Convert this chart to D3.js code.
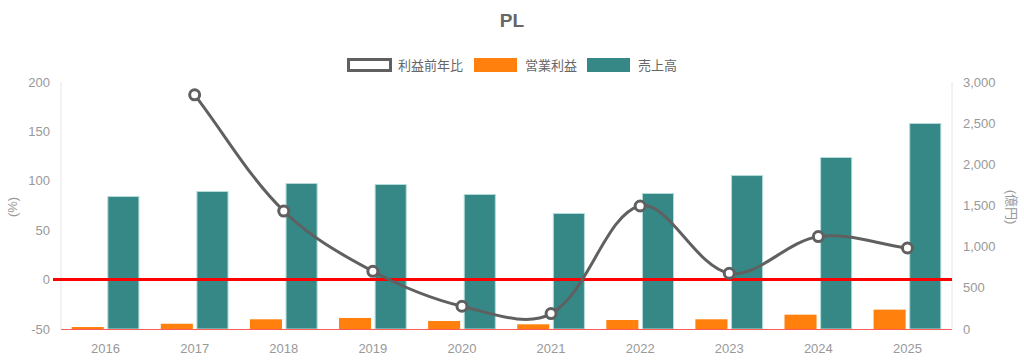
<!DOCTYPE html>
<html>
<head>
<meta charset="utf-8">
<script src="https://cdn.jsdelivr.net/npm/d3@7"></script>
<style>
  body { margin: 0; background: #fff; }
  text { font-family: "Liberation Sans", Arial, "Noto Sans CJK JP", sans-serif; }
</style>
</head>
<body>
<div id="chart"></div>
<script>
// data
const years = ["2016", "2017", "2018", "2019", "2020", "2021", "2022", "2023", "2024", "2025"];
const sales = [1615, 1676, 1773, 1761, 1640, 1409, 1652, 1870, 2089, 2502];   // 売上高 (億円)
const opProfit = [24, 64, 118, 134, 97, 57, 109, 118, 174, 235];            // 営業利益 (億円)
const profitYoY = [null, 187, 69.4, 8.4, -27, -34.4, 74.5, 6.4, 43.5, 32];   // 利益前年比 (%)
const leftTicks = [-50, 0, 50, 100, 150, 200];
const rightTicks = [0, 500, 1000, 1500, 2000, 2500, 3000];

const width = 1024, height = 361;
const margin = { top: 82, right: 72, bottom: 32, left: 61 };
const textGray = "#999";
const lineGray = "#606060";
const teal = "#358886";
const orange = "#ff800d";

const svg = d3.select("#chart").append("svg")
  .attr("width", width)
  .attr("height", height);

const x = d3.scaleBand()
  .domain(years)
  .range([margin.left, width - margin.right]);

const yPct = d3.scaleLinear().domain([-50, 200]).range([height - margin.bottom, margin.top]);
const yYen = d3.scaleLinear().domain([0, 3000]).range([height - margin.bottom, margin.top]);

// bars: category 80%, bar 90% (two datasets side by side)
const slot = x.bandwidth() * 0.8 / 2;
const barW = slot * 0.9;
const barX = (d, i) => x(d) + x.bandwidth() / 2 + (i - 1) * slot + (slot - barW) / 2;

// axis borders
const x0 = margin.left, x1 = width - margin.right;
svg.append("line")
  .attr("x1", x0).attr("x2", x0)
  .attr("y1", margin.top).attr("y2", height - margin.bottom)
  .attr("stroke", "#e6e6e6");
svg.append("line")
  .attr("x1", x1).attr("x2", x1)
  .attr("y1", margin.top).attr("y2", height - margin.bottom)
  .attr("stroke", "#e6e6e6");

// bars
svg.append("g").selectAll("rect")
  .data(years)
  .join("rect")
  .attr("x", d => barX(d, 0))
  .attr("width", barW)
  .attr("y", (d, i) => yYen(opProfit[i]))
  .attr("height", (d, i) => yYen(0) - yYen(opProfit[i]))
  .attr("fill", orange);

svg.append("g").selectAll("rect")
  .data(years)
  .join("rect")
  .attr("x", d => barX(d, 1) + 0.5)
  .attr("width", barW - 1)
  .attr("y", (d, i) => yYen(sales[i]) + 0.5)
  .attr("height", (d, i) => yYen(0) - yYen(sales[i]) - 0.5)
  .attr("fill", teal)
  .attr("stroke", "#b3dbd7")
  .attr("stroke-width", 1);

// zero line (left axis)
svg.append("line")
  .attr("x1", x0 - 8).attr("x2", x1)
  .attr("y1", yPct(0)).attr("y2", yPct(0))
  .attr("stroke", "#ff0000")
  .attr("stroke-width", 3);

// bottom border
svg.append("line")
  .attr("x1", x0).attr("x2", x1)
  .attr("y1", height - margin.bottom + 0.5).attr("y2", height - margin.bottom + 0.5)
  .attr("stroke", "#ff5c5c")
  .attr("stroke-width", 1);

// line with chart.js-like spline
const pts = years.map((d, i) => ({ v: profitYoY[i], x: x(d) + x.bandwidth() / 2 }))
  .filter(p => p.v !== null)
  .map(p => ({ x: p.x, y: yPct(p.v) }));

function splinePath(p, t) {
  const cps = p.map((cur, i) => {
    const prev = p[i - 1] || cur, next = p[i + 1] || cur;
    const d01 = Math.hypot(cur.x - prev.x, cur.y - prev.y);
    const d12 = Math.hypot(next.x - cur.x, next.y - cur.y);
    let s01 = d01 / (d01 + d12), s12 = d12 / (d01 + d12);
    if (isNaN(s01)) s01 = 0;
    if (isNaN(s12)) s12 = 0;
    const fa = t * s01, fb = t * s12;
    return {
      px: cur.x - fa * (next.x - prev.x), py: cur.y - fa * (next.y - prev.y),
      nx: cur.x + fb * (next.x - prev.x), ny: cur.y + fb * (next.y - prev.y)
    };
  });
  const path = d3.path();
  path.moveTo(p[0].x, p[0].y);
  for (let i = 1; i < p.length; i++) {
    path.bezierCurveTo(cps[i - 1].nx, cps[i - 1].ny, cps[i].px, cps[i].py, p[i].x, p[i].y);
  }
  return path.toString();
}

svg.append("path")
  .attr("d", splinePath(pts, 0.35))
  .attr("fill", "none")
  .attr("stroke", lineGray)
  .attr("stroke-width", 3);

svg.append("g").selectAll("circle")
  .data(pts)
  .join("circle")
  .attr("cx", d => d.x)
  .attr("cy", d => d.y)
  .attr("r", 5)
  .attr("fill", "#fff")
  .attr("stroke", lineGray)
  .attr("stroke-width", 3);

// axes labels
svg.append("g").selectAll("text")
  .data(leftTicks)
  .join("text")
  .attr("x", 50)
  .attr("y", d => yPct(d))
  .attr("dy", "0.35em")
  .attr("text-anchor", "end")
  .attr("fill", textGray)
  .style("font-size", "13px")
  .text(d => d);

svg.append("g").selectAll("text")
  .data(rightTicks)
  .join("text")
  .attr("x", 963)
  .attr("y", d => yYen(d))
  .attr("dy", "0.35em")
  .attr("fill", textGray)
  .style("font-size", "13px")
  .text(d => d3.format(",")(d));

svg.append("g").selectAll("text")
  .data(years)
  .join("text")
  .attr("x", d => x(d) + x.bandwidth() / 2)
  .attr("y", 348)
  .attr("dy", "0.35em")
  .attr("text-anchor", "middle")
  .attr("fill", textGray)
  .style("font-size", "13px")
  .text(d => d);

// axis titles
svg.append("text")
  .attr("transform", "translate(12,207) rotate(-90)")
  .attr("text-anchor", "middle")
  .attr("dy", "0.35em")
  .attr("fill", textGray)
  .style("font-size", "13px")
  .text("(%)");

svg.append("text")
  .attr("transform", "translate(1012,207) rotate(90)")
  .attr("text-anchor", "middle")
  .attr("dy", "0.35em")
  .attr("fill", textGray)
  .style("font-size", "13px")
  .text("(億円)");

// title
svg.append("text")
  .attr("x", 512)
  .attr("y", 20)
  .attr("dy", "0.35em")
  .attr("text-anchor", "middle")
  .attr("fill", "#666")
  .style("font-size", "19px")
  .style("font-weight", "bold")
  .text("PL");

// legend
const legendItems = [
  { label: "利益前年比", x: 347, fill: "#fff", stroke: lineGray, sw: 3 },
  { label: "営業利益", x: 474, fill: orange, stroke: "none", sw: 0 },
  { label: "売上高", x: 587, fill: teal, stroke: "none", sw: 0 }
];
const lg = svg.append("g").selectAll("g")
  .data(legendItems)
  .join("g");
lg.append("rect")
  .attr("x", d => d.sw ? d.x + 1.5 : d.x)
  .attr("y", d => d.sw ? 59.5 : 58)
  .attr("width", d => d.sw ? 42 : 43)
  .attr("height", d => d.sw ? 11 : 14)
  .attr("fill", d => d.fill)
  .attr("stroke", d => d.stroke)
  .attr("stroke-width", d => d.sw);
lg.append("text")
  .attr("x", d => d.x + 51)
  .attr("y", 65)
  .attr("dy", "0.35em")
  .attr("fill", "#666")
  .style("font-size", "13px")
  .text(d => d.label);
</script>
</body>
</html>
